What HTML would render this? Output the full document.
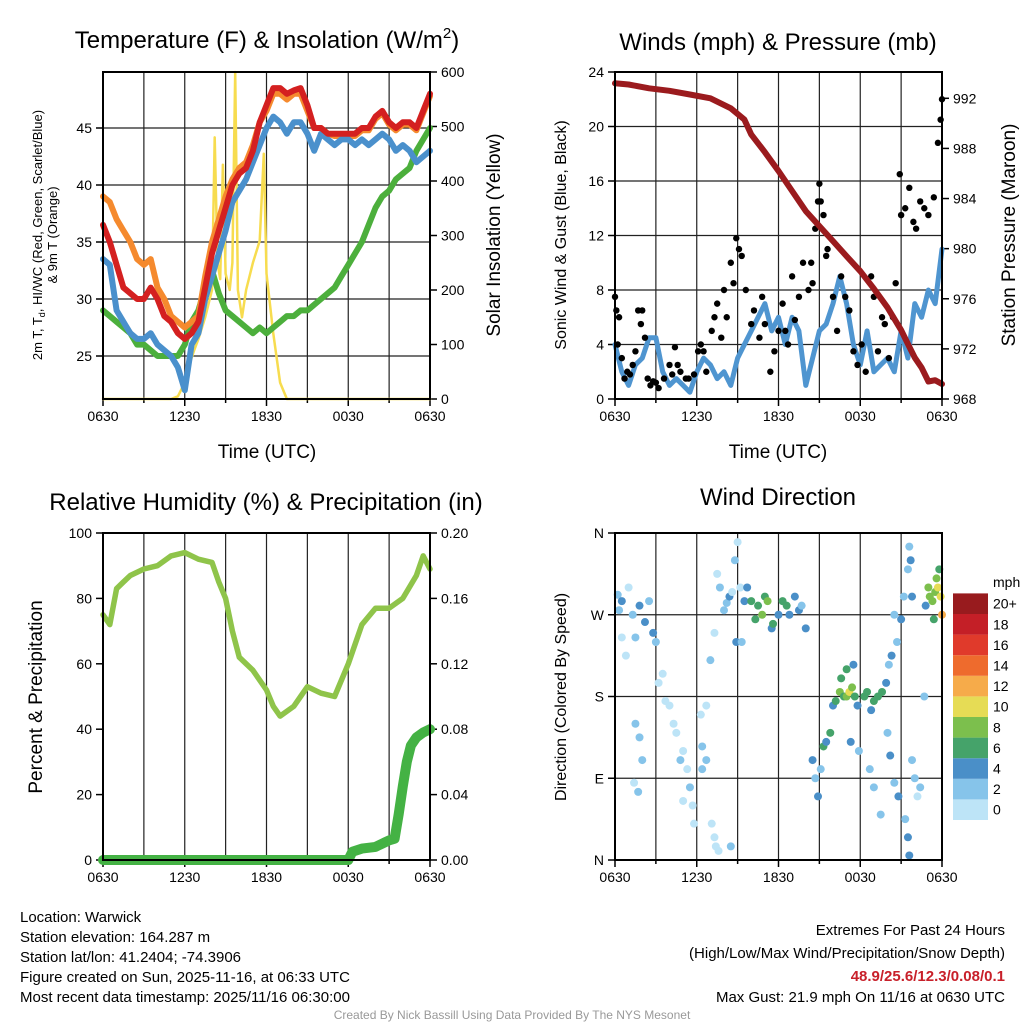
<!DOCTYPE html>
<html><head><meta charset="utf-8"><style>
body{margin:0;background:#fff;}
svg{display:block;font-family:"Liberation Sans",Arial,sans-serif;}
</style></head><body>
<svg id="s" width="1024" height="1024" viewBox="0 0 1024 1024">
<rect width="1024" height="1024" fill="#fff"/>
<text x="267" y="48" font-size="24" text-anchor="middle">Temperature (F) &amp; Insolation (W/m<tspan font-size="15" dy="-10">2</tspan><tspan dy="10">)</tspan></text>
<text x="778" y="50" font-size="24" text-anchor="middle">Winds (mph) &amp; Pressure (mb)</text>
<text x="266" y="510" font-size="24" text-anchor="middle">Relative Humidity (%) &amp; Precipitation (in)</text>
<text x="778" y="505" font-size="24" text-anchor="middle">Wind Direction</text>
<text x="267" y="458" font-size="19" text-anchor="middle">Time (UTC)</text>
<text x="778" y="458" font-size="19" text-anchor="middle">Time (UTC)</text>
<text transform="translate(42,235) rotate(-90)" font-size="13" text-anchor="middle">2m T, T<tspan font-size="9" dy="3">d</tspan><tspan dy="-3">, HI/WC (Red, Green, Scarlet/Blue)</tspan></text>
<text transform="translate(57,235) rotate(-90)" font-size="13" text-anchor="middle">&amp; 9m T (Orange)</text>
<text transform="translate(500,235) rotate(-90)" font-size="19" text-anchor="middle">Solar Insolation (Yellow)</text>
<text transform="translate(566,235) rotate(-90)" font-size="16" text-anchor="middle">Sonic Wind &amp; Gust (Blue, Black)</text>
<text transform="translate(1015,235) rotate(-90)" font-size="19" text-anchor="middle">Station Pressure (Maroon)</text>
<text transform="translate(42,697) rotate(-90)" font-size="19" text-anchor="middle">Percent &amp; Precipitation</text>
<text transform="translate(566,697) rotate(-90)" font-size="16" text-anchor="middle">Direction (Colored By Speed)</text>
<g font-size="15">
<text x="20" y="922">Location: Warwick</text>
<text x="20" y="942">Station elevation: 164.287 m</text>
<text x="20" y="962">Station lat/lon: 41.2404; -74.3906</text>
<text x="20" y="982">Figure created on Sun, 2025-11-16, at 06:33 UTC</text>
<text x="20" y="1002">Most recent data timestamp: 2025/11/16 06:30:00</text>
</g>
<g font-size="15" text-anchor="end">
<text x="1005" y="935">Extremes For Past 24 Hours</text>
<text x="1005" y="958">(High/Low/Max Wind/Precipitation/Snow Depth)</text>
<text x="1005" y="981" fill="#c8202a" font-weight="bold">48.9/25.6/12.3/0.08/0.1</text>
<text x="1005" y="1002">Max Gust: 21.9 mph On 11/16 at 0630 UTC</text>
</g>
<text x="512" y="1019" font-size="12" fill="#999" text-anchor="middle">Created By Nick Bassill Using Data Provided By The NYS Mesonet</text>
</svg>
<script>
const xTickLabels=["0630","1230","1830","0030","0630"];
const tempTimes=[0,0.5,1,1.5,2,2.5,3,3.5,4,4.5,5,5.5,6,6.5,7,7.5,8,8.5,9,9.5,10,10.5,11,11.5,12,12.5,13,13.5,14,14.5,15,15.5,16,16.5,17,17.5,18,18.5,19,19.5,20,20.5,21,21.5,22,22.5,23,23.5,24];
const tempRed=[36.5,35,33,31,30.5,30,30,31,30,28.5,28,27,26.5,27,28,31,34,36,38,40,41,41.5,43,45.5,47,48.5,48.5,48,48.3,48.5,47,45,45,44.5,44.5,44.5,44.5,44.5,45,45,46,46.5,45.5,45,45.5,45.5,45,46.5,48];
const tempOrange=[39,38.5,37,36,35,33.5,33,33.5,31,30,28.5,28,27.5,28,28.5,32,35,37,39,40.5,41.5,42,43.5,45.5,46.5,48,48,47.5,48,48,46.5,45,45,44.5,44.3,44.3,44.3,44.3,44.8,44.8,45.8,46.3,45.3,44.8,45.3,45.3,44.8,46.3,47.8];
const tempBlue=[33.5,33,29,28,27,26.5,26.5,27,26,25.5,25,24,22,26,27,30,32,34,36,38.5,39.5,40.5,42,43.5,45,46,45.5,44.5,45.5,45.5,44.5,43,44.5,44,43.5,44,44,43.5,44,43.5,44,44.5,44,43,43.5,43,42,42.5,43];
const tempGreen=[29,28.5,28,27.5,27,26,26,25.5,25,25,25,25,26,28,29,31,32.5,30.5,29,28.5,28,27.5,27,27.5,27,27.5,28,28.5,28.5,29,29,29.5,30,30.5,31,32,33,34,35,36.5,38,39,39.5,40.5,41,41.5,43,44,45];
const solTimes=[0,5,5.5,6,6.3,6.7,7,7.5,8,8.2,8.4,8.6,8.8,9,9.3,9.5,9.7,9.9,10.2,10.5,11,11.5,11.8,12,12.5,13,13.5,24];
const solValues=[0,0,5,30,60,90,110,150,200,480,250,220,430,230,200,250,600,200,150,200,250,290,450,230,120,30,0,0];
const windTimes=tempTimes;
const windSpeed=[4,2,1,2.5,3,4.5,4.5,2,1,1.5,1,0.5,2,3,2.5,1.5,2,1,3,4,5,6,7,5,6,4,6,5,1,3,5,5.5,7,9,7,4,2.5,5,2,2.5,3,2,5,3,7,6,8,7,11];
const gustTimes=[0,0.1,0.2,0.3,0.5,0.7,0.9,1.1,1.3,1.5,1.7,1.9,2.0,2.2,2.4,2.6,2.8,3.0,3.2,3.6,4,4.2,4.4,4.6,4.8,5.2,5.4,5.8,6.1,6.3,6.5,6.7,7.1,7.3,7.5,7.8,8,8.2,8.5,8.7,8.9,9.1,9.3,9.6,10,10.2,10.6,10.8,11.0,11.4,11.7,12,12.3,12.5,12.7,13.0,13.2,13.5,13.8,14.2,14.4,14.5,14.7,14.9,15.0,15.1,15.3,15.5,15.6,16,16.3,16.6,16.9,17.2,17.5,17.8,18.1,18.4,18.8,19.0,19.3,19.6,19.8,20.1,20.4,20.6,20.9,21.0,21.3,21.6,21.9,22.1,22.4,22.7,23.0,23.4,23.7,23.9,24];
const gustValues=[7.5,6.5,4,6,3,1.5,2,1.8,2.5,3.5,6.5,5.5,6.5,4.5,1.5,1,1.3,1.2,0.8,1.5,2.5,1.8,3.8,2.5,2,1.5,1.5,1.8,3.5,4,3.5,2,5,6,7,4.5,8,6,10,8.5,11.8,11,10.5,8,5.5,6.5,4.5,7.5,5.5,2,3.5,5,7,5,4,9,5.8,7.5,10,8,10,8.5,12.5,14.5,15.8,14.5,13.5,10.5,11,7.5,5,9,7.5,6.5,3.5,2.5,4,2,9,7.5,3.5,6,5.5,3,6,8.5,16.5,13.5,14,15.5,13,12.5,14.5,14,13.5,14.8,18.8,20.5,22];
const presTimes=[0,1,2.5,4,5.5,7,8.5,9.5,10,11,12,13,14,15,16,17,18,19,20,21,21.5,22,22.5,23,23.5,24];
const presValues=[993.2,993.1,992.8,992.6,992.3,992.0,991.2,990.3,989.1,987.7,986.2,984.6,983,981.8,980.6,979.4,978.2,976.8,975.3,973.5,972.4,971.3,970.5,969.4,969.5,969.2];
const rhTimes=[0,0.5,1,1.5,2,3,4,5,6,7,8,8.5,9,9.5,10,11,12,12.5,13,14,14.5,15,16,17,18,19,20,21,22,23,23.5,24];
const rhValues=[75,72,83,85,87,89,90,93,94,92,91,85,80,70,62,58,52,47,44,47,50,53,51,50,60,72,77,77,80,87,93,89];
const pcpTimes=[0,18,18.3,19,20,20.5,21,21.4,21.7,22,22.3,22.6,23,23.5,24];
const pcpValues=[0,0,0.005,0.007,0.008,0.01,0.012,0.013,0.028,0.045,0.06,0.07,0.075,0.078,0.08];
const dirTimes=[0.2,0.5,0.3,1,1.3,1.8,2.2,2.5,2.8,3,0.5,0.8,1.5,3.2,3.5,3.7,4,4.3,1.8,2,1.5,1.4,1.7,4.5,5,5.3,5.5,5.7,5.8,5,4.8,6.4,6.7,6.3,6.7,6.4,7.1,7.3,7.4,7.6,8.5,7,7.3,7.5,7.7,8.0,8.2,8.4,8.6,8.8,9,9.2,9.5,9.7,10,10.3,10.5,10.8,11,11.2,11.5,11.6,12,12.3,12.6,12.8,13.2,13.5,13.7,14.0,8.9,9.3,14.5,14.7,14.9,15.1,15.3,15.5,15.8,16,16.2,16.5,16.8,17.0,17.2,17.4,17.6,17.8,16.6,17,17.5,17.3,17.9,18.3,18.5,18.8,19.0,19.3,19.6,19.9,20.1,20.3,20.5,20.7,18.7,19.0,19.5,20,20.2,20.5,20.8,21,21.2,21.5,21.6,21.7,21.8,21.3,21.5,21.6,21.8,22.0,22.2,22.4,22.7,23,23.1,23.3,23.5,23.7,23.9,24,23.6,23.8,23.4,22.8];
const dirValues=[292,285,275,300,270,280,262,285,250,240,245,225,245,195,205,175,170,150,135,110,150,85,75,140,120,100,80,60,40,65,110,100,110,160,170,125,40,25,15,10,15,220,250,315,300,275,283,290,295,330,350,300,285,300,285,265,280,270,290,285,255,260,270,285,280,270,290,275,280,255,240,240,110,90,70,100,125,130,140,170,175,185,180,180,185,190,180,170,200,210,215,130,120,180,185,165,175,180,185,195,215,225,270,240,100,80,50,140,115,85,70,265,290,320,345,330,290,45,25,5,110,90,70,80,180,300,290,285,295,300,290,270,310,320,265,280];
const dirSpeed=[3,4,2,1,2,4,4,3,4,2,1,1,2,0,1,1,0,1,3,2,3,1,2,1,1,1,2,1,1,1,2,2,3,1,0,2,1,0,0,1,3,2,1,1,2,3,3,4,1,2,1,1,4,5,6,6,7,8,7,8,4,6,4,7,6,4,5,4,3,4,4,3,4,3,4,3,6,5,7,4,6,8,7,9,10,8,7,5,6,6,4,4,3,6,7,5,7,6,7,4,3,4,3,3,3,3,2,3,4,3,4,4,3,3,3,4,5,2,4,4,2,2,1,3,3,8,9,9,8,10,10,12,9,7,7,4];
const speedColors=["#bde4f7","#86c4ea","#4a8fc8","#45a36a","#7cbf4d","#e6dc55","#f6ab4a","#ee6b2d","#e03a2b","#c41f27","#981b1e"];
const speedLabels=["0","2","4","6","8","10","12","14","16","18","20+"];

const NS="http://www.w3.org/2000/svg";
const svg=document.getElementById("s");
function el(tag,attrs,parent){const e=document.createElementNS(NS,tag);for(const k in attrs)e.setAttribute(k,attrs[k]);(parent||svg).appendChild(e);return e;}
function lin(d0,d1,r0,r1){return v=>r0+(v-d0)/(d1-d0)*(r1-r0);}

function frame(name,x0,y0,x1,y1,hgrid,vgrid){
  const g=el("g",{});
  
  
  const sx=lin(0,24,x0,x1);
  if(vgrid){for(let h=3;h<24;h+=3){const l=el("line",{x1:sx(h),x2:sx(h),y1:y0,y2:y1,stroke:"#222","stroke-width":1.2},g);}}
  hgrid.forEach(y=>{const l=el("line",{x1:x0,x2:x1,y1:y,y2:y,stroke:"#222","stroke-width":1.2},g);});
  xTickLabels.forEach((t,i)=>{const x=sx(i*6);
    const tx=el("text",{x:x,y:y1+22,"font-size":14,"text-anchor":"middle"},g);tx.textContent=t;
    });
  for(let h=0;h<=24;h+=3){el("line",{x1:sx(h),x2:sx(h),y1:y1,y2:y1+(h%6?4:7),stroke:"#000","stroke-width":1.5},g);}
  return {g,sx};
}
function yAxis(g,x,side,ticks,labels,sy){
  ticks.forEach((v,i)=>{const y=sy(v);
    el("line",{x1:x,x2:x+side*7,y1:y,y2:y,stroke:"#000","stroke-width":1.5},g);
    const t=el("text",{x:x+side*11,y:y+5,"font-size":14,"text-anchor":side<0?"end":"start"},g);t.textContent=labels[i];
    });
}
function border(g,x0,y0,x1,y1){el("rect",{x:x0,y:y0,width:x1-x0,height:y1-y0,fill:"none",stroke:"#000","stroke-width":2},g);}
function path(g,xs,ys,sx,sy,color,w,name){
  const d=xs.map((t,i)=>(i?"L":"M")+sx(t).toFixed(1)+","+sy(ys[i]).toFixed(1)).join("");
  const p=el("path",{d:d,fill:"none",stroke:color,"stroke-width":w,"stroke-linejoin":"round","stroke-linecap":"round"},g);
  
  
  return p;
}

// Panel 1
{const x0=103,y0=72,x1=430,y1=399;
 const sy=lin(25,45,356,128), sr=lin(0,600,399,72);
 const tks=[25,30,35,40,45];
 const {g,sx}=frame("temperature",x0,y0,x1,y1,tks.map(sy),true);
 yAxis(g,x0,-1,tks,tks.map(String),sy);
 yAxis(g,x1,1,[0,100,200,300,400,500,600],["0","100","200","300","400","500","600"],sr);
 path(g,solTimes,solValues,sx,sr,"#f7dc4f",2.5,"insolation-line");
 path(g,tempTimes,tempGreen,sx,sy,"#4caf3c",6,"dewpoint-line");
 path(g,tempTimes,tempOrange,sx,sy,"#f58a2e",6,"temp-9m-line");
 path(g,tempTimes,tempBlue,sx,sy,"#4a90cc",6,"windchill-line");
 path(g,tempTimes,tempRed,sx,sy,"#d42020",6,"temp-2m-line");
 border(g,x0,y0,x1,y1);}

// Panel 2
{const x0=615,y0=72,x1=942,y1=399;
 const sy=lin(0,24,399,72), sp=lin(968,992,399,98.3);
 const tks=[0,4,8,12,16,20,24];
 const {g,sx}=frame("winds",x0,y0,x1,y1,tks.slice(1,6).map(sy),true);
 yAxis(g,x0,-1,tks,tks.map(String),sy);
 yAxis(g,x1,1,[968,972,976,980,984,988,992],["968","972","976","980","984","988","992"],sp);
 path(g,windTimes,windSpeed,sx,sy,"#4f95d0",5,"wind-speed-line");
 gustTimes.forEach((t,i)=>{const c=el("circle",{cx:sx(t),cy:sy(gustValues[i]),r:3.2,fill:"#000"},g);
   });
 path(g,presTimes,presValues,sx,sp,"#9b1b1e",6,"pressure-line");
 border(g,x0,y0,x1,y1);}

// Panel 3
{const x0=103,y0=533,x1=430,y1=860;
 const sy=lin(0,100,860,533), sp=lin(0,0.2,860,533);
 const tks=[0,20,40,60,80,100];
 const {g,sx}=frame("humidity",x0,y0,x1,y1,[],true);
 yAxis(g,x0,-1,tks,tks.map(String),sy);
 yAxis(g,x1,1,[0,0.04,0.08,0.12,0.16,0.2],["0.00","0.04","0.08","0.12","0.16","0.20"],sp);
 path(g,rhTimes,rhValues,sx,sy,"#8fc44a",5.5,"humidity-line");
 path(g,pcpTimes,pcpValues,sx,sp,"#44b244",10,"precip-line");
 border(g,x0,y0,x1,y1);}

// Panel 4
{const x0=615,y0=533,x1=942,y1=860;
 const sy=lin(0,360,860,533);
 const tks=[0,90,180,270,360];
 const {g,sx}=frame("wind-direction",x0,y0,x1,y1,[90,180,270].map(sy),true);
 yAxis(g,x0,-1,tks,["N","E","S","W","N"],sy);
 dirTimes.forEach((t,i)=>{const ci=Math.min(10,Math.floor(dirSpeed[i]/2));
   const c=el("circle",{cx:sx(t),cy:sy(dirValues[i]),r:4,fill:speedColors[ci]},g);
   });
 border(g,x0,y0,x1,y1);
 const lg=el("g",{});
 
 
 const t=el("text",{x:993,y:587,"font-size":14},lg);t.textContent="mph";
 const bh=20.6;
 speedColors.forEach((c,i)=>{const y=820-(i+1)*bh;
   el("rect",{x:953,y:y,width:35,height:bh,fill:c},lg);
   const tx=el("text",{x:993,y:y+bh/2+5,"font-size":14},lg);tx.textContent=speedLabels[i];
   });
}
</script>
</body></html>
